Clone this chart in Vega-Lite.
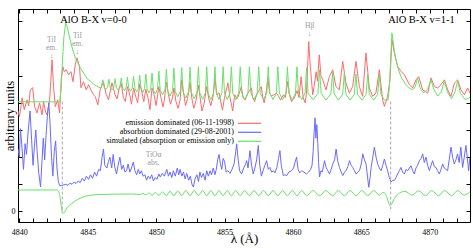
{
"$schema": "https://vega.github.io/schema/vega-lite/v6.json",
"width": 452, "height": 213,
"autosize": {"type": "none"},
"padding": {"left": 18, "top": 9, "right": 3, "bottom": 26},
"config": {"font": "Liberation Serif", "view": {"stroke": "black", "strokeWidth": 1}, "axis": {"domain": false, "grid": false, "tickColor": "black", "labelColor": "black", "titleColor": "black", "tickSize": -4, "labelFont": "Liberation Serif", "titleFont": "Liberation Serif", "titleFontWeight": "normal"}},
"datasets": {
"em": [{"x":4839.9,"y":3.7},{"x":4840.0,"y":3.49},{"x":4840.1,"y":3.8},{"x":4840.2,"y":4.19},{"x":4840.36,"y":3.75},{"x":4840.56,"y":4.11},{"x":4840.68,"y":3.9},{"x":4840.8,"y":4.48},{"x":4840.97,"y":4.56},{"x":4841.12,"y":3.86},{"x":4841.29,"y":3.63},{"x":4841.48,"y":4.0},{"x":4841.66,"y":3.56},{"x":4841.77,"y":4.04},{"x":4841.9,"y":3.7},{"x":4842.02,"y":3.56},{"x":4842.21,"y":4.11},{"x":4842.3,"y":4.8},{"x":4842.39,"y":5.59},{"x":4842.5,"y":4.59},{"x":4842.63,"y":3.86},{"x":4842.8,"y":4.11},{"x":4842.94,"y":3.63},{"x":4843.07,"y":4.93},{"x":4843.19,"y":5.33},{"x":4843.28,"y":5.15},{"x":4843.43,"y":5.22},{"x":4843.6,"y":5.04},{"x":4843.77,"y":5.15},{"x":4843.92,"y":4.78},{"x":4844.09,"y":5.41},{"x":4844.21,"y":5.66},{"x":4844.4,"y":5.33},{"x":4844.5,"y":4.56},{"x":4844.69,"y":4.78},{"x":4844.89,"y":4.48},{"x":4845.06,"y":4.67},{"x":4845.23,"y":4.48},{"x":4845.42,"y":4.3},{"x":4845.55,"y":4.23},{"x":4845.74,"y":3.93},{"x":4845.91,"y":4.48},{"x":4846.15,"y":4.78},{"x":4846.35,"y":4.3},{"x":4846.52,"y":4.11},{"x":4846.77,"y":4.74},{"x":4847.0,"y":4.3},{"x":4847.15,"y":4.15},{"x":4847.3,"y":4.55},{"x":4847.45,"y":4.72},{"x":4847.6,"y":4.2},{"x":4847.75,"y":4.05},{"x":4847.9,"y":4.6},{"x":4848.05,"y":4.35},{"x":4848.2,"y":3.95},{"x":4848.35,"y":4.55},{"x":4848.5,"y":4.25},{"x":4848.65,"y":4.0},{"x":4848.8,"y":4.7},{"x":4848.95,"y":4.4},{"x":4849.1,"y":4.05},{"x":4849.25,"y":4.5},{"x":4849.4,"y":4.2},{"x":4849.55,"y":3.75},{"x":4849.7,"y":4.55},{"x":4849.85,"y":4.3},{"x":4850.0,"y":3.9},{"x":4850.2,"y":4.6},{"x":4850.35,"y":4.2},{"x":4850.5,"y":3.85},{"x":4850.6,"y":4.1},{"x":4850.75,"y":4.75},{"x":4850.9,"y":4.3},{"x":4851.05,"y":3.95},{"x":4851.2,"y":4.2},{"x":4851.3,"y":4.55},{"x":4851.45,"y":4.05},{"x":4851.6,"y":3.8},{"x":4851.75,"y":4.1},{"x":4851.87,"y":4.85},{"x":4852.0,"y":4.4},{"x":4852.15,"y":3.9},{"x":4852.3,"y":4.15},{"x":4852.48,"y":4.75},{"x":4852.6,"y":4.2},{"x":4852.75,"y":3.8},{"x":4852.9,"y":4.05},{"x":4853.09,"y":4.65},{"x":4853.2,"y":4.25},{"x":4853.35,"y":3.7},{"x":4853.5,"y":3.95},{"x":4853.7,"y":4.6},{"x":4853.85,"y":4.15},{"x":4854.0,"y":3.9},{"x":4854.15,"y":4.2},{"x":4854.3,"y":4.9},{"x":4854.45,"y":4.3},{"x":4854.6,"y":4.37},{"x":4854.85,"y":3.73},{"x":4855.0,"y":4.2},{"x":4855.25,"y":4.74},{"x":4855.4,"y":4.2},{"x":4855.6,"y":3.7},{"x":4855.75,"y":4.3},{"x":4855.9,"y":4.15},{"x":4856.0,"y":4.23},{"x":4856.23,"y":4.6},{"x":4856.35,"y":4.2},{"x":4856.5,"y":4.1},{"x":4856.7,"y":4.35},{"x":4856.96,"y":4.56},{"x":4857.05,"y":4.2},{"x":4857.2,"y":4.05},{"x":4857.35,"y":4.3},{"x":4857.5,"y":4.45},{"x":4857.69,"y":4.6},{"x":4857.8,"y":4.2},{"x":4857.9,"y":4.0},{"x":4858.05,"y":4.4},{"x":4858.17,"y":4.93},{"x":4858.3,"y":4.35},{"x":4858.45,"y":4.25},{"x":4858.6,"y":4.3},{"x":4858.8,"y":4.35},{"x":4858.95,"y":4.25},{"x":4859.1,"y":4.1},{"x":4859.3,"y":4.3},{"x":4859.45,"y":4.2},{"x":4859.63,"y":4.79},{"x":4859.75,"y":4.3},{"x":4859.9,"y":4.05},{"x":4860.1,"y":4.18},{"x":4860.3,"y":4.45},{"x":4860.45,"y":4.2},{"x":4860.6,"y":4.97},{"x":4860.75,"y":4.2},{"x":4860.9,"y":4.0},{"x":4861.0,"y":4.4},{"x":4861.1,"y":5.6},{"x":4861.16,"y":6.26},{"x":4861.25,"y":5.5},{"x":4861.35,"y":4.9},{"x":4861.45,"y":4.3},{"x":4861.55,"y":4.6},{"x":4861.7,"y":5.15},{"x":4861.8,"y":4.8},{"x":4861.93,"y":5.77},{"x":4862.05,"y":5.0},{"x":4862.18,"y":4.85},{"x":4862.42,"y":4.48},{"x":4862.67,"y":4.97},{"x":4862.91,"y":5.22},{"x":4863.15,"y":4.6},{"x":4863.4,"y":4.48},{"x":4863.64,"y":5.53},{"x":4863.88,"y":4.73},{"x":4864.13,"y":4.36},{"x":4864.37,"y":4.6},{"x":4864.61,"y":5.53},{"x":4864.86,"y":4.6},{"x":4865.1,"y":4.24},{"x":4865.34,"y":5.84},{"x":4865.59,"y":4.55},{"x":4865.83,"y":4.24},{"x":4866.07,"y":4.36},{"x":4866.32,"y":5.22},{"x":4866.56,"y":4.12},{"x":4866.69,"y":3.87},{"x":4866.93,"y":4.24},{"x":4867.1,"y":4.85},{"x":4867.24,"y":6.33},{"x":4867.42,"y":5.84},{"x":4867.66,"y":5.34},{"x":4867.9,"y":5.16},{"x":4868.15,"y":5.04},{"x":4868.52,"y":4.67},{"x":4868.76,"y":4.55},{"x":4869.0,"y":4.85},{"x":4869.2,"y":4.97},{"x":4869.49,"y":4.48},{"x":4869.86,"y":4.36},{"x":4870.1,"y":4.92},{"x":4870.35,"y":4.6},{"x":4870.59,"y":4.55},{"x":4870.83,"y":4.67},{"x":4871.08,"y":4.85},{"x":4871.32,"y":4.48},{"x":4871.56,"y":4.24},{"x":4871.81,"y":4.73},{"x":4872.05,"y":4.85},{"x":4872.29,"y":4.48},{"x":4872.54,"y":4.3},{"x":4872.78,"y":4.55},{"x":4872.95,"y":4.36}],
"ab": [{"x":4839.9,"y":2.3},{"x":4840.0,"y":2.0},{"x":4840.08,"y":3.05},{"x":4840.2,"y":2.3},{"x":4840.3,"y":1.55},{"x":4840.42,"y":2.5},{"x":4840.52,"y":2.1},{"x":4840.65,"y":3.0},{"x":4840.78,"y":3.7},{"x":4840.9,"y":2.6},{"x":4841.0,"y":1.7},{"x":4841.1,"y":2.4},{"x":4841.2,"y":3.0},{"x":4841.3,"y":2.2},{"x":4841.42,"y":1.4},{"x":4841.55,"y":0.9},{"x":4841.65,"y":1.8},{"x":4841.75,"y":2.7},{"x":4841.85,"y":1.9},{"x":4841.95,"y":2.8},{"x":4842.05,"y":3.5},{"x":4842.15,"y":4.0},{"x":4842.25,"y":3.2},{"x":4842.35,"y":2.0},{"x":4842.45,"y":1.3},{"x":4842.55,"y":2.2},{"x":4842.65,"y":2.6},{"x":4842.75,"y":1.6},{"x":4842.85,"y":1.1},{"x":4842.95,"y":0.95},{"x":4843.1,"y":0.95},{"x":4843.25,"y":0.98},{"x":4843.4,"y":1.0},{"x":4843.55,"y":0.96},{"x":4843.7,"y":1.04},{"x":4843.85,"y":1.0},{"x":4844.0,"y":1.08},{"x":4844.15,"y":1.03},{"x":4844.3,"y":1.12},{"x":4844.45,"y":1.06},{"x":4844.6,"y":1.22},{"x":4844.75,"y":1.12},{"x":4844.9,"y":1.3},{"x":4845.05,"y":1.18},{"x":4845.2,"y":1.35},{"x":4845.35,"y":1.22},{"x":4845.5,"y":1.45},{"x":4845.65,"y":1.3},{"x":4845.8,"y":1.55},{"x":4845.92,"y":1.5},{"x":4846.05,"y":2.0},{"x":4846.15,"y":2.3},{"x":4846.25,"y":1.7},{"x":4846.4,"y":1.6},{"x":4846.52,"y":1.85},{"x":4846.62,"y":2.0},{"x":4846.75,"y":1.6},{"x":4846.86,"y":2.1},{"x":4846.97,"y":1.65},{"x":4847.1,"y":1.38},{"x":4847.22,"y":1.7},{"x":4847.35,"y":2.0},{"x":4847.48,"y":1.55},{"x":4847.6,"y":1.7},{"x":4847.72,"y":1.45},{"x":4847.84,"y":1.5},{"x":4847.95,"y":1.75},{"x":4848.08,"y":1.45},{"x":4848.2,"y":1.6},{"x":4848.33,"y":1.82},{"x":4848.45,"y":1.5},{"x":4848.57,"y":1.35},{"x":4848.7,"y":1.55},{"x":4848.8,"y":1.38},{"x":4848.92,"y":1.5},{"x":4849.05,"y":1.3},{"x":4849.18,"y":1.35},{"x":4849.3,"y":1.15},{"x":4849.42,"y":1.3},{"x":4849.55,"y":1.2},{"x":4849.68,"y":1.35},{"x":4849.8,"y":1.12},{"x":4849.93,"y":1.25},{"x":4850.05,"y":1.18},{"x":4850.2,"y":1.38},{"x":4850.3,"y":1.27},{"x":4850.45,"y":1.4},{"x":4850.6,"y":1.3},{"x":4850.78,"y":1.55},{"x":4850.9,"y":1.3},{"x":4851.02,"y":1.45},{"x":4851.15,"y":1.25},{"x":4851.26,"y":1.5},{"x":4851.4,"y":1.3},{"x":4851.55,"y":1.6},{"x":4851.65,"y":1.35},{"x":4851.75,"y":1.55},{"x":4851.88,"y":1.3},{"x":4852.0,"y":1.45},{"x":4852.12,"y":1.2},{"x":4852.24,"y":1.4},{"x":4852.38,"y":1.15},{"x":4852.5,"y":1.3},{"x":4852.62,"y":1.0},{"x":4852.72,"y":0.9},{"x":4852.85,"y":1.2},{"x":4852.98,"y":1.35},{"x":4853.1,"y":1.1},{"x":4853.2,"y":1.45},{"x":4853.32,"y":1.25},{"x":4853.45,"y":1.4},{"x":4853.58,"y":1.15},{"x":4853.7,"y":1.5},{"x":4853.82,"y":1.3},{"x":4853.95,"y":1.5},{"x":4854.05,"y":1.35},{"x":4854.18,"y":1.6},{"x":4854.3,"y":1.35},{"x":4854.4,"y":1.55},{"x":4854.5,"y":1.9},{"x":4854.6,"y":2.1},{"x":4854.7,"y":1.75},{"x":4854.8,"y":1.55},{"x":4854.9,"y":1.95},{"x":4855.0,"y":1.85},{"x":4855.12,"y":1.45},{"x":4855.25,"y":1.5},{"x":4855.4,"y":1.4},{"x":4855.55,"y":1.55},{"x":4855.7,"y":1.75},{"x":4855.82,"y":2.2},{"x":4855.89,"y":2.49},{"x":4855.98,"y":2.0},{"x":4856.1,"y":1.5},{"x":4856.25,"y":1.38},{"x":4856.4,"y":1.6},{"x":4856.55,"y":1.75},{"x":4856.62,"y":1.87},{"x":4856.72,"y":1.6},{"x":4856.86,"y":2.24},{"x":4856.98,"y":1.7},{"x":4857.1,"y":1.38},{"x":4857.22,"y":1.6},{"x":4857.35,"y":1.9},{"x":4857.47,"y":2.43},{"x":4857.58,"y":1.7},{"x":4857.7,"y":1.3},{"x":4857.82,"y":1.5},{"x":4857.95,"y":1.7},{"x":4858.08,"y":1.87},{"x":4858.2,"y":1.55},{"x":4858.32,"y":1.62},{"x":4858.45,"y":1.45},{"x":4858.58,"y":1.5},{"x":4858.69,"y":1.42},{"x":4858.82,"y":1.6},{"x":4858.95,"y":1.95},{"x":4859.05,"y":2.24},{"x":4859.15,"y":1.7},{"x":4859.3,"y":1.32},{"x":4859.42,"y":1.35},{"x":4859.55,"y":1.32},{"x":4859.7,"y":1.45},{"x":4859.9,"y":1.5},{"x":4860.05,"y":1.6},{"x":4860.15,"y":1.8},{"x":4860.27,"y":2.0},{"x":4860.38,"y":1.55},{"x":4860.5,"y":1.42},{"x":4860.65,"y":1.5},{"x":4860.8,"y":1.45},{"x":4861.0,"y":1.38},{"x":4861.15,"y":1.45},{"x":4861.3,"y":1.55},{"x":4861.4,"y":1.7},{"x":4861.48,"y":2.2},{"x":4861.55,"y":2.9},{"x":4861.62,"y":3.45},{"x":4861.68,"y":2.7},{"x":4861.75,"y":3.2},{"x":4861.82,"y":2.5},{"x":4861.88,"y":1.8},{"x":4861.95,"y":1.27},{"x":4862.05,"y":1.5},{"x":4862.15,"y":1.45},{"x":4862.31,"y":1.87},{"x":4862.43,"y":1.62},{"x":4862.55,"y":1.5},{"x":4862.68,"y":1.38},{"x":4862.8,"y":1.55},{"x":4862.92,"y":1.75},{"x":4863.05,"y":1.9},{"x":4863.16,"y":2.3},{"x":4863.28,"y":1.85},{"x":4863.41,"y":1.62},{"x":4863.53,"y":1.45},{"x":4863.65,"y":1.32},{"x":4863.77,"y":1.45},{"x":4863.89,"y":1.5},{"x":4864.02,"y":1.65},{"x":4864.14,"y":1.87},{"x":4864.26,"y":1.7},{"x":4864.38,"y":1.62},{"x":4864.5,"y":1.5},{"x":4864.62,"y":1.38},{"x":4864.75,"y":1.45},{"x":4864.87,"y":1.5},{"x":4865.0,"y":1.75},{"x":4865.11,"y":2.12},{"x":4865.23,"y":1.9},{"x":4865.35,"y":1.75},{"x":4865.45,"y":1.3},{"x":4865.55,"y":0.89},{"x":4865.63,"y":1.2},{"x":4865.72,"y":1.62},{"x":4865.84,"y":2.0},{"x":4865.96,"y":2.37},{"x":4866.08,"y":2.0},{"x":4866.2,"y":1.75},{"x":4866.32,"y":1.6},{"x":4866.45,"y":1.5},{"x":4866.57,"y":1.7},{"x":4866.69,"y":1.93},{"x":4866.81,"y":1.7},{"x":4866.93,"y":1.5},{"x":4867.05,"y":1.25},{"x":4867.18,"y":1.08},{"x":4867.3,"y":1.15},{"x":4867.42,"y":1.14},{"x":4867.54,"y":1.25},{"x":4867.66,"y":1.38},{"x":4867.78,"y":1.5},{"x":4867.9,"y":1.62},{"x":4868.02,"y":1.45},{"x":4868.15,"y":1.38},{"x":4868.27,"y":1.55},{"x":4868.39,"y":1.5},{"x":4868.52,"y":1.6},{"x":4868.64,"y":1.68},{"x":4868.76,"y":1.5},{"x":4868.88,"y":1.38},{"x":4869.0,"y":1.6},{"x":4869.12,"y":1.7},{"x":4869.25,"y":1.87},{"x":4869.37,"y":1.95},{"x":4869.49,"y":2.12},{"x":4869.61,"y":1.8},{"x":4869.73,"y":2.0},{"x":4869.85,"y":1.7},{"x":4869.98,"y":1.5},{"x":4870.1,"y":1.7},{"x":4870.22,"y":1.87},{"x":4870.34,"y":1.65},{"x":4870.46,"y":1.62},{"x":4870.58,"y":1.5},{"x":4870.71,"y":1.38},{"x":4870.83,"y":1.55},{"x":4870.95,"y":1.75},{"x":4871.07,"y":1.6},{"x":4871.19,"y":1.55},{"x":4871.31,"y":1.5},{"x":4871.43,"y":1.9},{"x":4871.56,"y":2.37},{"x":4871.68,"y":2.0},{"x":4871.8,"y":1.75},{"x":4871.92,"y":1.9},{"x":4872.04,"y":2.12},{"x":4872.16,"y":1.8},{"x":4872.28,"y":2.37},{"x":4872.41,"y":1.62},{"x":4872.53,"y":2.0},{"x":4872.65,"y":2.43},{"x":4872.75,"y":2.0},{"x":4872.85,"y":1.5},{"x":4872.95,"y":2.0}],
"su": [{"x":4839.9,"y":4.04},{"x":4842.95,"y":4.04},{"x":4843.05,"y":4.5},{"x":4843.15,"y":5.5},{"x":4843.25,"y":6.4},{"x":4843.38,"y":6.95},{"x":4843.5,"y":6.8},{"x":4843.7,"y":6.35},{"x":4843.9,"y":5.95},{"x":4844.1,"y":5.65},{"x":4844.3,"y":5.45},{"x":4844.45,"y":5.3},{"x":4844.7,"y":5.1},{"x":4845.0,"y":4.87},{"x":4845.2,"y":4.8},{"x":4845.4,"y":4.7},{"x":4845.65,"y":4.62},{"x":4845.9,"y":4.55},
{"x":4846.0,"y":4.6},{"x":4846.1,"y":4.85},{"x":4846.2,"y":4.57},{"x":4846.33,"y":4.5},
{"x":4846.45,"y":4.57},{"x":4846.55,"y":4.87},{"x":4846.65,"y":4.56},{"x":4846.78,"y":4.48},
{"x":4846.9,"y":4.56},{"x":4847.0,"y":4.89},{"x":4847.1,"y":4.55},{"x":4847.23,"y":4.47},
{"x":4847.35,"y":4.56},{"x":4847.45,"y":4.92},{"x":4847.55,"y":4.55},{"x":4847.68,"y":4.45},
{"x":4847.8,"y":4.55},{"x":4847.9,"y":4.95},{"x":4848.0,"y":4.54},{"x":4848.13,"y":4.43},
{"x":4848.25,"y":4.54},{"x":4848.35,"y":4.98},{"x":4848.45,"y":4.53},{"x":4848.58,"y":4.41},
{"x":4848.7,"y":4.53},{"x":4848.8,"y":5.02},{"x":4848.9,"y":4.52},{"x":4849.03,"y":4.39},
{"x":4849.15,"y":4.52},{"x":4849.25,"y":5.06},{"x":4849.35,"y":4.5},{"x":4849.48,"y":4.37},
{"x":4849.6,"y":4.5},{"x":4849.7,"y":5.1},{"x":4849.8,"y":4.48},{"x":4849.95,"y":4.33},
{"x":4850.1,"y":4.5},{"x":4850.2,"y":5.17},{"x":4850.3,"y":4.47},{"x":4850.47,"y":4.3},
{"x":4850.65,"y":4.48},{"x":4850.75,"y":5.24},{"x":4850.85,"y":4.45},{"x":4851.02,"y":4.25},
{"x":4851.2,"y":4.45},{"x":4851.3,"y":5.28},{"x":4851.4,"y":4.42},{"x":4851.58,"y":4.22},
{"x":4851.77,"y":4.43},{"x":4851.87,"y":5.3},{"x":4851.97,"y":4.4},{"x":4852.17,"y":4.18},
{"x":4852.38,"y":4.41},{"x":4852.48,"y":5.32},{"x":4852.58,"y":4.38},{"x":4852.78,"y":4.15},
{"x":4852.99,"y":4.39},{"x":4853.09,"y":5.33},{"x":4853.19,"y":4.37},{"x":4853.4,"y":4.13},
{"x":4853.6,"y":4.37},{"x":4853.7,"y":5.33},{"x":4853.8,"y":4.36},{"x":4854.0,"y":4.12},
{"x":4854.2,"y":4.36},{"x":4854.3,"y":5.33},{"x":4854.4,"y":4.36},{"x":4854.6,"y":4.12},
{"x":4854.8,"y":4.36},{"x":4854.9,"y":5.33},{"x":4855.0,"y":4.36},{"x":4855.2,"y":4.12},
{"x":4855.4,"y":4.36},{"x":4855.5,"y":5.33},{"x":4855.6,"y":4.36},{"x":4855.82,"y":4.12},
{"x":4856.04,"y":4.36},{"x":4856.15,"y":5.33},{"x":4856.26,"y":4.36},{"x":4856.48,"y":4.12},
{"x":4856.71,"y":4.36},{"x":4856.82,"y":5.33},{"x":4856.93,"y":4.36},{"x":4857.16,"y":4.12},
{"x":4857.39,"y":4.36},{"x":4857.5,"y":5.33},{"x":4857.61,"y":4.36},{"x":4857.85,"y":4.12},
{"x":4858.09,"y":4.36},{"x":4858.2,"y":5.33},{"x":4858.31,"y":4.36},{"x":4858.55,"y":4.12},
{"x":4858.79,"y":4.36},{"x":4858.9,"y":5.33},{"x":4859.01,"y":4.36},{"x":4859.25,"y":4.12},
{"x":4859.49,"y":4.36},{"x":4859.6,"y":5.33},{"x":4859.71,"y":4.36},{"x":4859.95,"y":4.12},
{"x":4860.19,"y":4.36},{"x":4860.3,"y":5.33},{"x":4860.41,"y":4.36},{"x":4860.65,"y":4.12},
{"x":4860.89,"y":4.36},{"x":4861.0,"y":5.3},{"x":4861.11,"y":4.36},{"x":4861.47,"y":4.12},
{"x":4861.83,"y":4.35},{"x":4861.95,"y":5.22},{"x":4862.07,"y":4.35},{"x":4862.42,"y":4.1},
{"x":4862.78,"y":4.33},{"x":4862.9,"y":5.15},{"x":4863.02,"y":4.33},{"x":4863.33,"y":4.1},
{"x":4863.64,"y":4.32},{"x":4863.76,"y":5.1},{"x":4863.88,"y":4.32},{"x":4864.18,"y":4.1},
{"x":4864.49,"y":4.31},{"x":4864.61,"y":5.06},{"x":4864.73,"y":4.31},{"x":4865.04,"y":4.1},
{"x":4865.35,"y":4.31},{"x":4865.47,"y":5.05},{"x":4865.59,"y":4.31},{"x":4865.9,"y":4.1},
{"x":4866.2,"y":4.31},{"x":4866.32,"y":5.04},{"x":4866.44,"y":4.31},{"x":4866.7,"y":4.1},
{"x":4866.95,"y":4.1},{"x":4867.05,"y":4.5},{"x":4867.15,"y":5.6},{"x":4867.24,"y":6.58},{"x":4867.32,"y":6.3},{"x":4867.42,"y":5.9},{"x":4867.54,"y":5.59},{"x":4867.7,"y":5.25},{"x":4867.9,"y":4.97},{"x":4868.1,"y":4.8},{"x":4868.27,"y":4.67},{"x":4868.5,"y":4.55},{"x":4868.76,"y":4.48},{"x":4868.95,"y":4.6},{"x":4869.12,"y":4.92},{"x":4869.3,"y":4.55},{"x":4869.55,"y":4.37},{"x":4869.85,"y":4.5},{"x":4870.1,"y":4.85},{"x":4870.3,"y":4.5},{"x":4870.6,"y":4.25},{"x":4870.85,"y":4.4},{"x":4871.07,"y":4.8},{"x":4871.3,"y":4.4},{"x":4871.6,"y":4.15},{"x":4871.85,"y":4.4},{"x":4872.04,"y":4.8},{"x":4872.25,"y":4.35},{"x":4872.6,"y":4.12},{"x":4872.95,"y":4.2}],
"sl": [{"x":4839.9,"y":0.79},{"x":4842.75,"y":0.79},{"x":4842.9,"y":0.7},{"x":4842.98,"y":0.5},{"x":4843.07,"y":0.17},{"x":4843.16,"y":-0.07},{"x":4843.28,"y":-0.05},{"x":4843.48,"y":0.13},{"x":4843.85,"y":0.3},{"x":4844.33,"y":0.46},{"x":4844.82,"y":0.56},{"x":4845.42,"y":0.61},{"x":4846.5,"y":0.63},{"x":4847.5,"y":0.64},{"x":4848.35,"y":0.64},{"x":4848.8,"y":0.62},{"x":4849.03,"y":0.66},{"x":4849.25,"y":0.61},{"x":4849.48,"y":0.68},{"x":4849.7,"y":0.6},{"x":4849.95,"y":0.7},{"x":4850.2,"y":0.59},{"x":4850.47,"y":0.72},{"x":4850.75,"y":0.58},{"x":4851.02,"y":0.74},{"x":4851.3,"y":0.58},{"x":4851.58,"y":0.76},{"x":4851.87,"y":0.58},{"x":4852.17,"y":0.77},{"x":4852.48,"y":0.58},{"x":4852.78,"y":0.77},{"x":4853.09,"y":0.58},{"x":4853.4,"y":0.77},{"x":4853.7,"y":0.58},{"x":4854.0,"y":0.77},{"x":4854.3,"y":0.58},{"x":4854.6,"y":0.77},{"x":4854.9,"y":0.58},{"x":4855.2,"y":0.77},{"x":4855.5,"y":0.58},{"x":4855.82,"y":0.77},{"x":4856.15,"y":0.58},{"x":4856.48,"y":0.77},{"x":4856.82,"y":0.58},{"x":4857.16,"y":0.77},{"x":4857.5,"y":0.58},{"x":4857.85,"y":0.77},{"x":4858.2,"y":0.58},{"x":4858.55,"y":0.77},{"x":4858.9,"y":0.58},{"x":4859.25,"y":0.77},{"x":4859.6,"y":0.58},{"x":4859.95,"y":0.77},{"x":4860.3,"y":0.58},{"x":4860.65,"y":0.77},{"x":4861.0,"y":0.58},{"x":4861.47,"y":0.77},{"x":4861.95,"y":0.58},{"x":4862.42,"y":0.77},{"x":4862.9,"y":0.58},{"x":4863.33,"y":0.77},{"x":4863.76,"y":0.58},{"x":4864.18,"y":0.77},{"x":4864.61,"y":0.58},{"x":4865.04,"y":0.77},{"x":4865.47,"y":0.58},{"x":4865.9,"y":0.77},{"x":4866.32,"y":0.6},{"x":4866.6,"y":0.7},{"x":4866.85,"y":0.55},{"x":4866.98,"y":0.35},{"x":4867.1,"y":0.21},{"x":4867.25,"y":0.3},{"x":4867.42,"y":0.47},{"x":4867.7,"y":0.64},{"x":4868.2,"y":0.74},{"x":4868.7,"y":0.6},{"x":4869.2,"y":0.76},{"x":4869.7,"y":0.58},{"x":4870.15,"y":0.77},{"x":4870.65,"y":0.58},{"x":4871.1,"y":0.77},{"x":4871.6,"y":0.58},{"x":4872.05,"y":0.77},{"x":4872.5,"y":0.6},{"x":4872.95,"y":0.72}],
"dash": [{"x":4843.14,"y":4.05,"y2":-0.02},{"x":4867.15,"y":4.05,"y2":-0.02}],
"gray": [{"x":4842.35,"y":6.47,"t":"TiI|em.|↓"},{"x":4844.25,"y":6.62,"t":"TiI|em.|↓"},{"x":4861.22,"y":6.99,"t":"Hβ|↓"},{"x":4849.81,"y":2.24,"t":"TiOα|abs."}],
"band": [{"x":4845.42,"y":7.05,"t":"AlO B-X v=0-0"},{"x":4869.4,"y":7.05,"t":"AlO B-X v=1-1"}]
},
"resolve": {"axis": {"x": "independent", "y": "independent"}},
"layer": [
{"data": {"name": "em"}, "mark": {"type": "line", "strokeWidth": 1, "clip": true},
 "encoding": {
  "x": {"field": "x", "type": "quantitative", "scale": {"domain": [4839.9, 4872.95], "nice": false, "zero": false},
        "axis": {"orient": "bottom", "values": [4840,4841,4842,4843,4844,4845,4846,4847,4848,4849,4850,4851,4852,4853,4854,4855,4856,4857,4858,4859,4860,4861,4862,4863,4864,4865,4866,4867,4868,4869,4870,4871,4872], "format": "d", "labelExpr": "datum.value % 5 === 0 ? datum.label : ''", "labelFontSize": 8, "labelPadding": 10, "title": "λ (Å)", "titleFontSize": 13, "titlePadding": -4}},
  "y": {"field": "y", "type": "quantitative", "scale": {"domain": [-0.39, 7.46], "nice": false, "zero": false},
        "axis": {"orient": "left", "values": [0,1,2,3,4,5,6,7], "labelExpr": "datum.value === 0 ? '0' : ''", "labelFontSize": 8, "labelPadding": 7, "title": "arbitrary units", "titleFontSize": 12.5, "titlePadding": -5}},
  "color": {"datum": "emission dominated (06-11-1998)", "type": "nominal",
    "scale": {"domain": ["emission dominated (06-11-1998)", "absorbtion dominated (29-08-2001)", "simulated (absorption or emission only)"], "range": ["#ff6a6a", "#6a6aff", "#6ae06a"]},
    "legend": {"title": null, "orient": "none", "legendX": 226.6, "legendY": 109.3, "direction": "vertical", "symbolType": "M-2.9,0H2.9", "symbolSize": 64, "symbolStrokeWidth": 1.2, "labelAlign": "right", "labelOffset": -20.6, "labelFont": "Liberation Serif", "labelFontSize": 8, "labelLimit": 300, "rowPadding": 0}}
 }},
{"data": {"name": "ab"}, "mark": {"type": "line", "strokeWidth": 1, "clip": true},
 "encoding": {
  "x": {"field": "x", "type": "quantitative", "axis": {"orient": "top", "values": [4840,4841,4842,4843,4844,4845,4846,4847,4848,4849,4850,4851,4852,4853,4854,4855,4856,4857,4858,4859,4860,4861,4862,4863,4864,4865,4866,4867,4868,4869,4870,4871,4872], "labels": false, "title": null}},
  "y": {"field": "y", "type": "quantitative", "axis": {"orient": "right", "values": [0,1,2,3,4,5,6,7], "labels": false, "title": null}},
  "color": {"datum": "absorbtion dominated (29-08-2001)", "type": "nominal"}
 }},
{"data": {"name": "sl"}, "mark": {"type": "line", "strokeWidth": 1, "interpolate": "monotone", "clip": true},
 "encoding": {
  "x": {"field": "x", "type": "quantitative", "axis": null},
  "y": {"field": "y", "type": "quantitative", "axis": null},
  "color": {"datum": "simulated (absorption or emission only)", "type": "nominal"}
 }},
{"data": {"name": "su"}, "mark": {"type": "line", "strokeWidth": 1, "clip": true},
 "encoding": {
  "x": {"field": "x", "type": "quantitative", "axis": null},
  "y": {"field": "y", "type": "quantitative", "axis": null},
  "color": {"datum": "simulated (absorption or emission only)", "type": "nominal"}
 }},
{"data": {"name": "dash"}, "mark": {"type": "rule", "color": "#aaaaaa", "strokeWidth": 1, "strokeDash": [3, 2]},
 "encoding": {
  "x": {"field": "x", "type": "quantitative", "axis": null},
  "y": {"field": "y", "type": "quantitative", "axis": null},
  "y2": {"field": "y2"}
 }},
{"data": {"name": "gray"}, "mark": {"type": "text", "color": "#999999", "fontSize": 7.5, "lineBreak": "|", "lineHeight": 8, "align": "center", "baseline": "top", "font": "Liberation Serif"},
 "encoding": {
  "x": {"field": "x", "type": "quantitative", "axis": null},
  "y": {"field": "y", "type": "quantitative", "axis": null},
  "text": {"field": "t"}
 }},
{"data": {"name": "band"}, "mark": {"type": "text", "color": "black", "fontSize": 10.5, "align": "center", "baseline": "middle", "font": "Liberation Serif"},
 "encoding": {
  "x": {"field": "x", "type": "quantitative", "axis": null},
  "y": {"field": "y", "type": "quantitative", "axis": null},
  "text": {"field": "t"}
 }}
]
}
